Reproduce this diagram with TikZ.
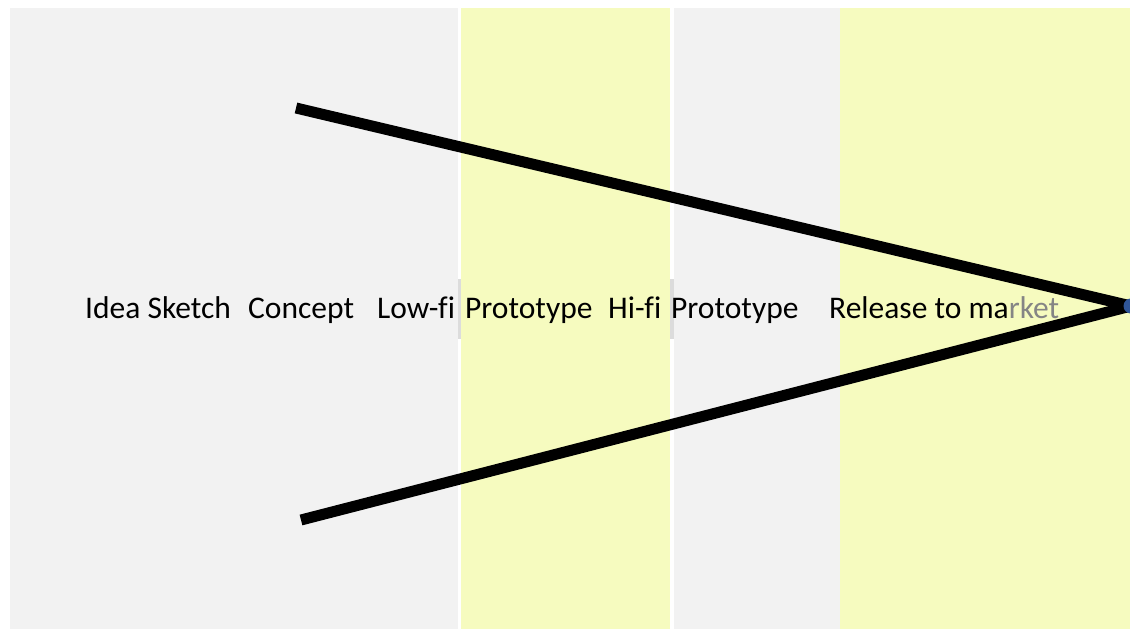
\documentclass[tikz,border=0pt]{standalone}
\usepackage{fontspec}
\setmainfont[Ligatures=NoCommon]{Carlito}
\definecolor{bandgray}{HTML}{F2F2F2}
\definecolor{bandyellow}{HTML}{F6FBBF}
\definecolor{tickgray}{HTML}{DCDCDC}
\definecolor{fadetext}{HTML}{858585}
\definecolor{tipblue}{HTML}{2F5597}
\begin{document}
\begin{tikzpicture}[x=1pt,y=-1pt,
  label/.style={anchor=base west,inner sep=0pt,font=\fontsize{31.5}{38}\selectfont},
  funnel/.style={line width=11pt,line cap=butt,black}]
\useasboundingbox (0,0) rectangle (1130,629);
% stage bands
\fill[bandgray]   (10,8)  rectangle (458,629);
\fill[bandyellow] (461,8) rectangle (670,629);
\fill[bandgray]   (674,8) rectangle (840,629);
\fill[bandyellow] (840,8) rectangle (1130,629);
% small separators behind the text row
\fill[tickgray] (458,279) rectangle (461,339);
\fill[tickgray] (670,279) rectangle (674,339);
% stage labels
\node[label] (idea)    at (85,318)  {Idea Sketch};
\node[label] (concept) at (248,318) {Concept};
\node[label] (lowfi)   at (377,318) {Low-fi};
\node[label] (proto1)  at (465,318) {Prototype};
\node[label] (hifi)    at (608,318) {Hi-fi};
\node[label] (proto2)  at (671,318) {Prototype};
\node[label] (release) at (829,318) {Release to ma\textcolor{fadetext}{rket}};
% funnel lines converging on the release point
\coordinate (top) at (296,108);
\coordinate (bottom) at (301,520);
\node[circle,fill=tipblue,inner sep=0pt,minimum size=15pt] (tip) at (1131,306) {};
\draw[funnel] (top) -- (tip.center);
\draw[funnel] (bottom) -- (tip.center);
\fill[tipblue] (tip.center) circle (7.5);
\end{tikzpicture}
\end{document}
